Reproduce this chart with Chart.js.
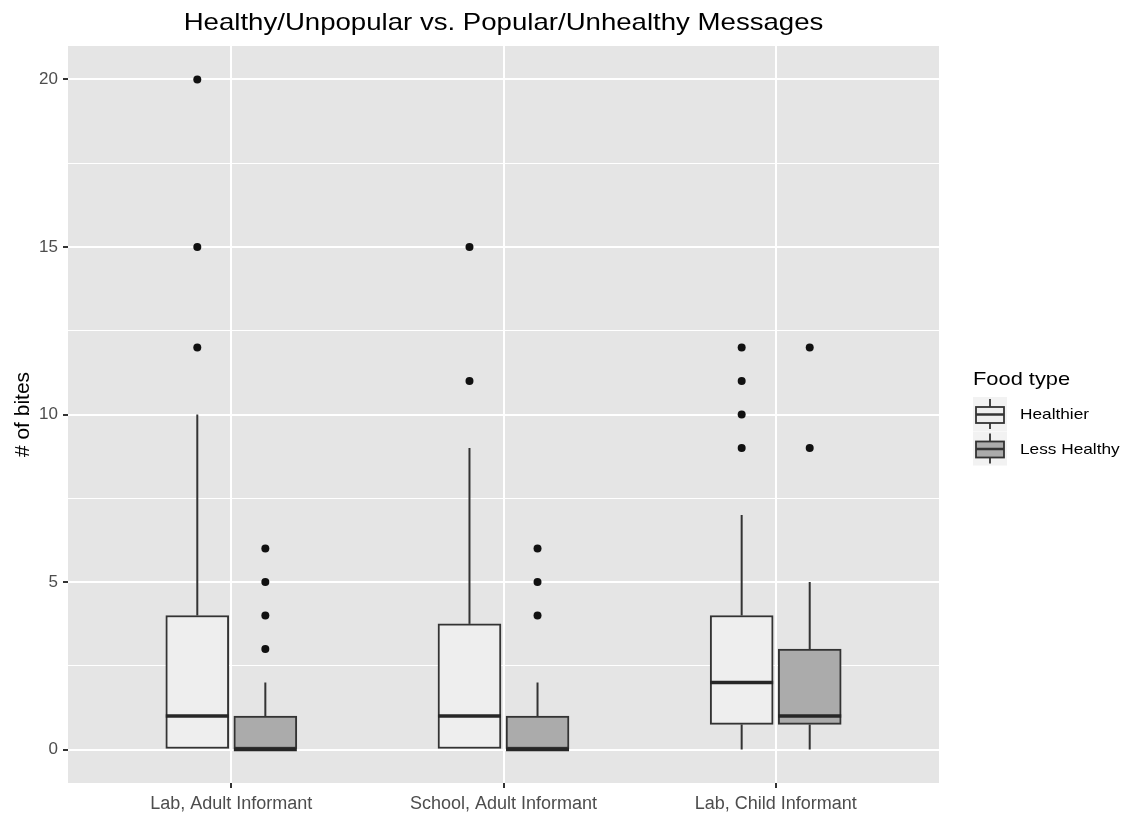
<!DOCTYPE html>
<html>
<head>
<meta charset="utf-8">
<title>Healthy/Unpopular vs. Popular/Unhealthy Messages</title>
<script src="https://cdn.jsdelivr.net/npm/chart.js@4.4.0/dist/chart.umd.min.js"></script>
<style>
    html, body { margin: 0; padding: 0; background: #ffffff; }
    canvas { display: block; }
</style>
</head>
<body>
<canvas id="chartBocados" width="1133" height="815"></canvas>
<script>
const categorias = ['Lab, Adult Informant', 'School, Adult Informant', 'Lab, Child Informant'];
const series = ['Healthier', 'Less Healthy'];

// Healthier: bigote inferior, Q1, mediana, Q3, bigote superior y atipicos por grupo
const saludMin = [0, 0, 0];
const saludQ1 = [0, 0, 0.75];
const saludMediana = [1, 1, 2];
const saludQ3 = [4, 3.75, 4];
const saludMax = [10, 9, 7];
const saludAtipicos = [[12, 15, 20], [11, 15], [9, 10, 11, 12]];

// Less Healthy
const menosMin = [0, 0, 0];
const menosQ1 = [0, 0, 0.75];
const menosMediana = [0, 0, 1];
const menosQ3 = [1, 1, 3];
const menosMax = [2, 2, 5];
const menosAtipicos = [[3, 4, 5, 6], [4, 5, 6], [9, 12]];

const yTicks = [0, 5, 10, 15, 20];
const yMenores = [2.5, 7.5, 12.5, 17.5];

const DESPLAZA = 0.125;
const colores = ['#EEEEEE', '#ABABAB'];
const colorLinea = '#333333';
const fuente = '"Liberation Sans", Arial, sans-serif';
const ESTIRA = 1.15;

const resumen = [
    { min: saludMin, q1: saludQ1, med: saludMediana, q3: saludQ3, max: saludMax, atip: saludAtipicos },
    { min: menosMin, q1: menosQ1, med: menosMediana, q3: menosQ3, max: menosMax, atip: menosAtipicos }
];

function posicion(i, s) {
    return i + 1 + (s === 0 ? -DESPLAZA : DESPLAZA);
}

function datosCajas(s) {
    const r = resumen[s];
    return categorias.map((c, i) => ({ x: posicion(i, s), y: [r.q1[i], r.q3[i]] }));
}

function datosAtipicos(s) {
    return resumen[s].atip.flatMap((vals, i) => vals.map(v => ({ x: posicion(i, s), y: v })));
}

function textoEstirado(ctx, texto, x, y, alinear) {
    ctx.save();
    ctx.translate(x, y);
    ctx.scale(ESTIRA, 1);
    ctx.textAlign = alinear;
    ctx.fillText(texto, 0, 0);
    ctx.restore();
}

const panelPlugin = {
    id: 'panelFondo',
    beforeDraw(chart) {
        const { ctx, chartArea: a } = chart;
        ctx.save();
        ctx.fillStyle = '#E5E5E5';
        ctx.fillRect(a.left, a.top, a.right - a.left, a.bottom - a.top);
        ctx.restore();
    }
};

const cajasPlugin = {
    id: 'bigotesMedianas',
    beforeDatasetsDraw(chart) {
        const { ctx } = chart;
        const y = chart.scales.y;
        ctx.save();
        ctx.strokeStyle = colorLinea;
        ctx.lineWidth = 2;
        resumen.forEach((r, s) => {
            chart.getDatasetMeta(s).data.forEach((barra, i) => {
                ctx.beginPath();
                ctx.moveTo(barra.x, y.getPixelForValue(r.min[i]));
                ctx.lineTo(barra.x, y.getPixelForValue(r.q1[i]));
                ctx.moveTo(barra.x, y.getPixelForValue(r.q3[i]));
                ctx.lineTo(barra.x, y.getPixelForValue(r.max[i]));
                ctx.stroke();
            });
        });
        ctx.restore();
    },
    afterDatasetsDraw(chart) {
        const { ctx } = chart;
        const y = chart.scales.y;
        ctx.save();
        ctx.strokeStyle = '#262626';
        ctx.lineWidth = 3.5;
        resumen.forEach((r, s) => {
            chart.getDatasetMeta(s).data.forEach((barra, i) => {
                const py = y.getPixelForValue(r.med[i]);
                ctx.beginPath();
                ctx.moveTo(barra.x - barra.width / 2, py);
                ctx.lineTo(barra.x + barra.width / 2, py);
                ctx.stroke();
            });
        });
        ctx.restore();
    }
};

const textosPlugin = {
    id: 'tituloLeyenda',
    afterDraw(chart) {
        const { ctx, chartArea: a } = chart;
        ctx.save();
        ctx.fillStyle = '#000000';
        ctx.textBaseline = 'alphabetic';
        ctx.font = '24px ' + fuente;
        textoEstirado(ctx, 'Healthy/Unpopular vs. Popular/Unhealthy Messages', (a.left + a.right) / 2, 30, 'center');

        // leyenda
        const lx = 973;
        ctx.font = '19px ' + fuente;
        textoEstirado(ctx, 'Food type', lx, 385, 'left');

        series.forEach((nombre, s) => {
            const top = 397 + s * 34.5;
            const cx = lx + 17;
            ctx.fillStyle = '#F2F2F2';
            ctx.fillRect(lx, top, 34, 34);
            ctx.strokeStyle = colorLinea;
            ctx.lineWidth = 1.8;
            ctx.beginPath();
            ctx.moveTo(cx, top + 2);
            ctx.lineTo(cx, top + 10);
            ctx.moveTo(cx, top + 26);
            ctx.lineTo(cx, top + 32);
            ctx.stroke();
            ctx.fillStyle = colores[s];
            ctx.fillRect(lx + 3, top + 10, 28, 16);
            ctx.strokeRect(lx + 3, top + 10, 28, 16);
            ctx.lineWidth = 2.5;
            ctx.beginPath();
            ctx.moveTo(lx + 3, top + 17.5);
            ctx.lineTo(lx + 31, top + 17.5);
            ctx.stroke();

            ctx.fillStyle = '#000000';
            ctx.font = '15px ' + fuente;
            ctx.textBaseline = 'middle';
            textoEstirado(ctx, nombre, 1020, top + 18, 'left');
            ctx.textBaseline = 'alphabetic';
        });
        ctx.restore();
    }
};

const datasets = [];
series.forEach((nombre, s) => {
    datasets.push({
        type: 'bar',
        label: nombre,
        data: datosCajas(s),
        backgroundColor: colores[s],
        borderColor: colorLinea,
        borderWidth: 2,
        borderSkipped: false,
        barThickness: 63,
        grouped: false
    });
});
series.forEach((nombre, s) => {
    datasets.push({
        type: 'scatter',
        label: nombre + ' (outliers)',
        data: datosAtipicos(s),
        backgroundColor: '#111111',
        borderWidth: 0,
        pointRadius: 4,
        pointHoverRadius: 4
    });
});

const esMayor = v => yTicks.includes(v);

const ctx = document.getElementById('chartBocados').getContext('2d');
const chart = new Chart(ctx, {
    type: 'bar',
    data: { datasets: datasets },
    options: {
        responsive: false,
        animation: false,
        devicePixelRatio: 1,
        layout: { padding: { left: 0, right: 194, top: 46, bottom: 0 } },
        plugins: {
            legend: { display: false },
            title: { display: false },
            tooltip: { enabled: false }
        },
        scales: {
            x: {
                type: 'linear',
                min: 0.4,
                max: 3.6,
                offset: false,
                afterBuildTicks: scale => {
                    scale.ticks = categorias.map((c, i) => ({ value: i + 1 }));
                },
                afterFit: scale => { scale.height = 32; },
                ticks: {
                    callback: value => categorias[value - 1],
                    autoSkip: false,
                    maxRotation: 0,
                    padding: 5,
                    color: '#4D4D4D',
                    font: { family: fuente, size: 18 }
                },
                grid: {
                    offset: false,
                    color: '#FFFFFF',
                    lineWidth: 2,
                    tickColor: colorLinea,
                    tickLength: 5
                },
                border: { display: false }
            },
            y: {
                type: 'linear',
                min: -1,
                max: 21,
                afterBuildTicks: scale => {
                    scale.ticks = [...yTicks, ...yMenores].sort((p, q) => p - q).map(v => ({ value: v }));
                },
                afterFit: scale => { scale.width = 68; },
                ticks: {
                    callback: value => esMayor(value) ? String(value) : '',
                    padding: 5,
                    color: '#4D4D4D',
                    font: { family: fuente, size: 17 }
                },
                grid: {
                    color: '#FFFFFF',
                    lineWidth: c => esMayor(c.tick.value) ? 2 : 1,
                    tickColor: c => esMayor(c.tick.value) ? colorLinea : 'rgba(0,0,0,0)',
                    tickLength: 5
                },
                border: { display: false },
                title: {
                    display: true,
                    text: '# of bites',
                    color: '#000000',
                    font: { family: fuente, size: 21 },
                    padding: { top: 11, bottom: 0 }
                }
            }
        }
    },
    plugins: [panelPlugin, cajasPlugin, textosPlugin]
});
</script>
</body>
</html>
